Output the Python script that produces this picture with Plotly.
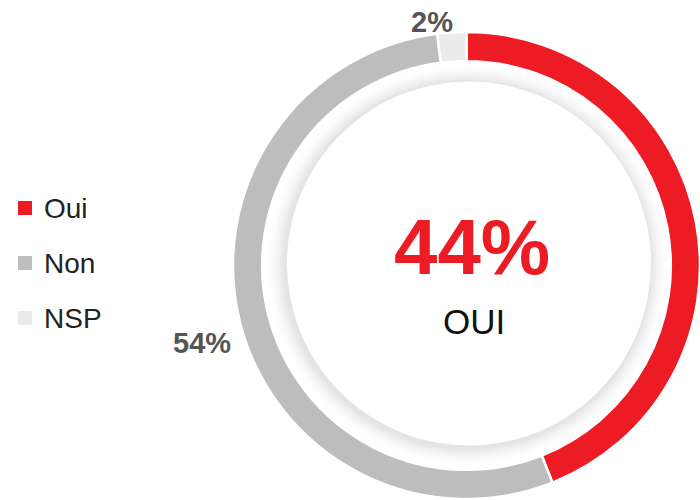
import plotly.graph_objects as go

categories = ["Oui", "Non", "NSP"]
values = [44, 54, 2]
slice_labels = ["", "54%", "2%"]
colors = ["#ED1C24", "#BDBDBD", "#EBEBEB"]
center_value = "44%"
center_label = "OUI"

FONT = "Liberation Sans, Arial, sans-serif"
W, H = 700, 500
cx, cy = 467.5, 265.0

fig = go.Figure()
fig.add_trace(go.Pie(
    labels=categories,
    values=values,
    textinfo="none",
    marker=dict(colors=colors, line=dict(color="white", width=2.5)),
    hole=0.875,
    sort=False,
    direction="clockwise",
    rotation=0,
    showlegend=False,
    domain=dict(x=[233 / W, 1.0], y=[1 / H, 468 / H]),
    hoverinfo="label+percent",
))

shapes = []
# soft inner shadow + white disc (graded rings)
n = 14
r_out, r_in = 200.0, 183.0
for k in range(n):
    r = r_out - (r_out - r_in) * k / n
    g = int(round(254 - (254 - 228) * (k / (n - 1)) ** 1.6))
    shapes.append(dict(type="circle", xref="paper", yref="paper",
                       x0=(cx - r) / W, x1=(cx + r) / W,
                       y0=(H - cy - r) / H, y1=(H - cy + r) / H,
                       fillcolor=f"rgb({g},{g},{g})", line=dict(width=0), layer="above"))
r = 182
shapes.append(dict(type="circle", xref="paper", yref="paper",
                   x0=(cx - r + 1.5) / W, x1=(cx + r + 1.5) / W,
                   y0=(H - cy - r + 1.5) / H, y1=(H - cy + r + 1.5) / H,
                   fillcolor="white", line=dict(width=0), layer="above"))

annotations = [
    dict(text=center_value, x=472 / W, y=(H - 247) / H, xref="paper", yref="paper",
         xanchor="center", yanchor="middle", showarrow=False,
         font=dict(family=FONT, size=78, color="#ED1C24", weight="bold")),
    dict(text=center_label, x=474 / W, y=(H - 321) / H, xref="paper", yref="paper",
         xanchor="center", yanchor="middle", showarrow=False,
         font=dict(family=FONT, size=35, color="#111111")),
]

# outside slice labels
label_pos = {"54%": (202, 343), "2%": (432, 22)}
for lab in slice_labels:
    if lab:
        px, py = label_pos[lab]
        annotations.append(dict(text=lab, x=px / W, y=(H - py) / H, xref="paper", yref="paper",
                                xanchor="center", yanchor="middle", showarrow=False,
                                font=dict(family=FONT, size=29, color="#555555", weight="bold")))

# manual legend
for i, (lab, col) in enumerate(zip(categories, colors)):
    yc = 208 + i * 55
    shapes.append(dict(type="rect", xref="paper", yref="paper",
                       x0=18 / W, x1=32 / W, y0=(H - yc - 7) / H, y1=(H - yc + 7) / H,
                       fillcolor=col, line=dict(width=0)))
    annotations.append(dict(text=lab, x=42 / W, y=(H - yc) / H, xref="paper", yref="paper",
                            xanchor="left", yanchor="middle", showarrow=False,
                            font=dict(family=FONT, size=28, color="#222222")))

fig.update_layout(
    width=W, height=H,
    margin=dict(l=0, r=0, t=0, b=0),
    paper_bgcolor="white",
    plot_bgcolor="white",
    shapes=shapes,
    annotations=annotations,
)

fig.write_html("out.html", config={"displayModeBar": False},
               post_script="document.body.style.margin='0';")
